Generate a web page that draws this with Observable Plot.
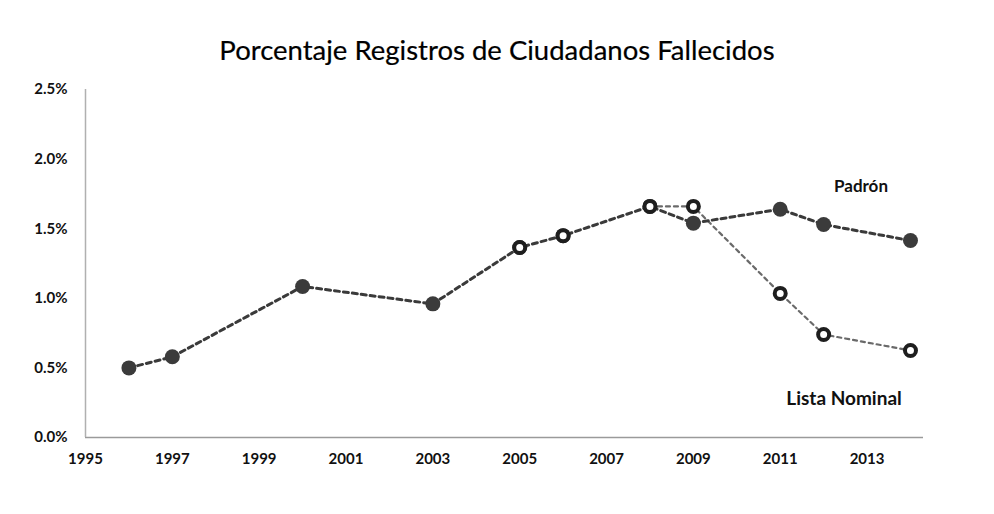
<!DOCTYPE html>
<html>
<head>
<meta charset="utf-8">
<script src="https://cdn.jsdelivr.net/npm/d3@7"></script>
<script src="https://cdn.jsdelivr.net/npm/@observablehq/plot@0.6"></script>
<style>
  html, body { margin: 0; padding: 0; background: #fff; }
  #wrap { width: 994px; height: 514px; overflow: hidden; }
  #title { height: 70px; box-sizing: border-box; padding-top: 35px; text-align: center;
           font-family: Lato, "Open Sans", sans-serif; font-size: 27.5px; line-height: 30px; color: #000;
           font-weight: 400; -webkit-text-stroke: 0.2px #000; }
</style>
</head>
<body>
<div id="wrap">
  <div id="title">Porcentaje Registros de Ciudadanos Fallecidos</div>
  <div id="chart"></div>
</div>
<script>
const years        = [1996, 1997, 2000, 2003, 2005, 2006, 2008, 2009, 2011, 2012, 2014];
const padron       = [0.50, 0.58, 1.085, 0.96, 1.365, 1.45, 1.66, 1.54, 1.64, 1.53, 1.415];
const listaNominal = [0.50, 0.58, 1.085, 0.96, 1.365, 1.45, 1.66, 1.66, 1.035, 0.74, 0.625];
const yTicks = [0, 0.5, 1.0, 1.5, 2.0, 2.5];
const xTicks = [1995, 1997, 1999, 2001, 2003, 2005, 2007, 2009, 2011, 2013];
const seriesNames = ["Padrón", "Lista Nominal"];

const padronData = years.map((y, i) => ({year: y, value: padron[i]}));
const listaData = years.map((y, i) => ({year: y, value: listaNominal[i]}));

const font = "Lato, 'Open Sans', sans-serif";

const chart = Plot.plot({
  width: 994,
  height: 444,
  marginLeft: 85,
  marginRight: 71,
  marginTop: 19,
  marginBottom: 77,
  style: {fontFamily: font, background: "#fff", overflow: "visible"},
  x: {domain: [1995, 2014.3], axis: null},
  y: {domain: [0, 2.5], axis: null},
  marks: [
    Plot.ruleY([0], {stroke: "#9a9a9a", strokeWidth: 1.5}),
    Plot.ruleX([1995], {y1: 0, y2: 2.5, stroke: "#b0b0b0", strokeWidth: 1.5}),
    Plot.axisY({ticks: yTicks, tickFormat: d => d.toFixed(1) + "%", tickSize: 0, tickPadding: 18,
                label: null, fontSize: 15, fontWeight: "bold", fill: "#111"}),
    Plot.axisX({ticks: xTicks, tickFormat: d => String(d), tickSize: 0, tickPadding: 16,
                label: null, fontSize: 15, fontWeight: "bold", fill: "#111"}),
    Plot.line(listaData, {filter: d => d.year >= 2008, x: "year", y: "value", stroke: "#6a6a6a",
                strokeWidth: 2.2, strokeDasharray: "4,4"}),
    Plot.line(padronData, {x: "year", y: "value", stroke: "#3a3a3a", strokeWidth: 3,
                strokeDasharray: "5,4"}),
    Plot.dot(padronData, {x: "year", y: "value", r: 7.5, fill: "#3b3b3b", stroke: "none"}),
    Plot.dot(listaData, {filter: d => d.year >= 2005, x: "year", y: "value", r: 5.5, fill: "#fff",
                stroke: "#1e1e1e", strokeWidth: 4}),
    Plot.text([seriesNames[0]], {x: 2012.86, y: 1.80, text: d => d, fontSize: 17, fontWeight: "bold",
                fill: "#111", fontFamily: font}),
    Plot.text([seriesNames[1]], {x: 2012.47, y: 0.28, text: d => d, fontSize: 19, fontWeight: "bold",
                fill: "#111", fontFamily: font})
  ]
});
document.getElementById("chart").appendChild(chart);
</script>
</body>
</html>
